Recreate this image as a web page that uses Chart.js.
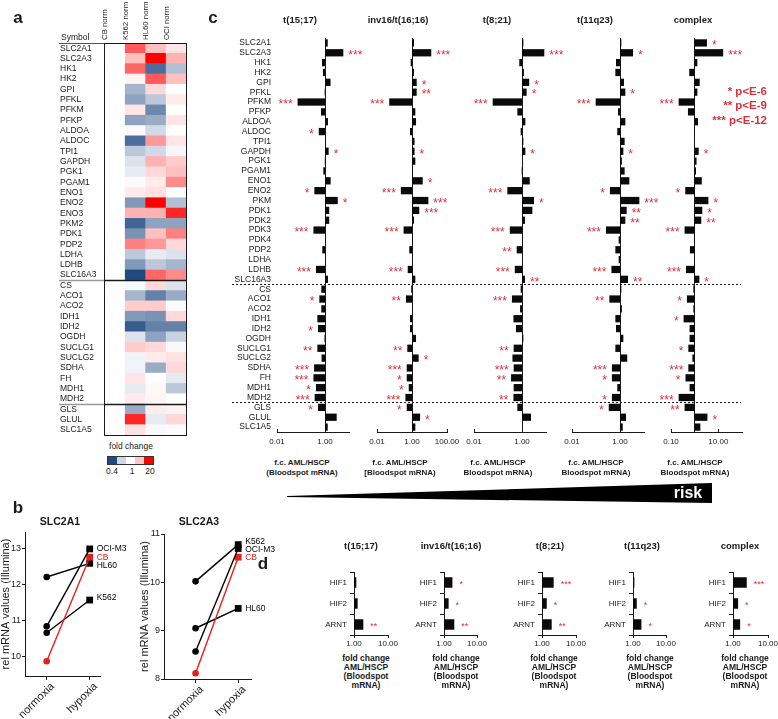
<!DOCTYPE html>
<html>
<head>
<meta charset="utf-8">
<title>Glycolysis / TCA gene expression in AML</title>
<script src="https://cdn.jsdelivr.net/npm/chart.js@4.4.1/dist/chart.umd.min.js"></script>
<style>
  body { margin: 0; background: #fff; }
  #fig { position: relative; width: 778px; height: 719px; overflow: hidden; font-family: "Liberation Sans", Arial, sans-serif; color: #1a1a1a; }
  #fig canvas { position: absolute; }
  .txt { position: absolute; white-space: nowrap; transform: translate(-50%, -50%); line-height: 1.15; text-align: center; }
  .panel { font-weight: bold; font-size: 17px; }
  .ttl { font-weight: bold; font-size: 9.5px; }
  .axt { font-weight: bold; font-size: 8px; line-height: 10px; }
  .axd { font-weight: bold; font-size: 8.5px; line-height: 9px; }
  .pleg { font-weight: bold; font-size: 11.5px; color: #d8323c; transform: translate(-100%, -50%); text-align: right; }
  .small { font-size: 8.5px; }
</style>
</head>
<body>
<div id="fig"></div>
<script>
const FONT = '"Liberation Sans", Arial, sans-serif';
const INK = '#1a1a1a';
const STAR = '#d8323c';
const fig = document.getElementById('fig');

// ---------- panel a : heatmap (fold change vs CB) ----------
const heatGenes = ['SLC2A1','SLC2A3','HK1','HK2','GPI','PFKL','PFKM','PFKP','ALDOA','ALDOC','TPI1','GAPDH','PGK1','PGAM1','ENO1','ENO2','ENO3','PKM2','PDK1','PDP2','LDHA','LDHB','SLC16A3',
  'CS','ACO1','ACO2','IDH1','IDH2','OGDH','SUCLG1','SUCLG2','SDHA','FH','MDH1','MDH2',
  'GLS','GLUL','SLC1A5'];
const heatCols = ['CB norm', 'K562 norm', 'HL60 norm', 'OCI norm'];
const fcCB = [1,1,1,1,1,1,1,1,1,1,1,1,1,1,1,1,1,1,1,1,1,1,1, 1,1,1,1,1,1,1,1,1,1,1,1, 1,1,1];
const fcK562 = [7.0,2.1,6.0,1.16,0.69,0.63,1.35,0.63,1.09,0.48,0.76,0.87,0.91,1.06,1.27,0.60,2.46,0.46,0.58,4.47,0.76,0.60,0.40,
  0.97,0.69,1.82,0.60,0.44,0.87,1.82,0.94,0.94,1.35,0.91,1.27,
  0.66,12.8,1.43];
const fcHL60 = [2.1,20,0.48,7.0,1.57,0.76,0.55,0.66,0.83,3.3,0.83,2.46,1.57,1.27,1.43,20,2.46,0.63,2.1,3.3,0.91,0.76,6.0,
  1.57,0.53,1.82,0.58,0.53,0.63,1.57,1.27,0.66,1.0,1.09,1.13,
  1.23,0.91,0.97];
const fcOCI = [1.35,2.46,0.73,2.1,1.0,1.27,1.0,1.35,1.0,1.35,0.955,1.82,2.1,3.85,1.0,0.73,12.8,0.63,4.47,1.57,0.87,0.69,3.85,
  0.87,0.66,0.98,1.57,0.53,0.80,0.97,1.43,1.57,0.90,0.76,1.0,
  1.16,1.57,0.98];
const heatGroupEnds = [22, 34];            // last row of glycolysis / TCA blocks
const legendStops = [0.4, 0.82, 1, 1.9, 20];
const legendTicks = ['0.4', '1', '20'];

// ---------- panel b : SLC2A1 / SLC2A3 normoxia vs hypoxia ----------
const conditions = ['normoxia', 'hypoxia'];
const cellLines = ['OCI-M3', 'CB', 'HL60', 'K562'];
const slc2a1Normoxia = [10.85, 9.88, 12.22, 10.67];
const slc2a1Hypoxia = [13.0, 12.77, 12.6, 11.58];
const slc2a3Normoxia = [8.57, 8.12, 9.05, 10.02];
const slc2a3Hypoxia = [10.7, 10.52, 9.46, 10.78];

// ---------- panel c : f.c. AML/HSCP per subtype ----------
const groups = ['t(15;17)', 'inv16/t(16;16)', 't(8;21)', 't(11q23)', 'complex'];
const genes = ['SLC2A1','SLC2A3','HK1','HK2','GPI','PFKL','PFKM','PFKP','ALDOA','ALDOC','TPI1','GAPDH','PGK1','PGAM1','ENO1','ENO2','PKM','PDK1','PDK2','PDK3','PDK4','PDP2','LDHA','LDHB','SLC16A3',
  'CS','ACO1','ACO2','IDH1','IDH2','OGDH','SUCLG1','SUCLG2','SDHA','FH','MDH1','MDH2',
  'GLS','GLUL','SLC1A5'];
const fcT1517 = [1.3,5.8,0.75,0.82,1.7,0.97,0.072,0.68,1.33,0.55,1.05,1.42,0.98,0.85,1.72,0.36,3.4,1.5,1.5,0.33,1.02,0.77,1.02,0.42,1.33,
  0.7,0.58,0.7,0.48,0.51,0.95,0.48,0.72,0.35,0.33,0.42,0.37,
  0.51,3.07,1.3];
const fcInv16 = [1.3,12.6,0.84,1.3,1.85,1.85,0.05,1.55,1.7,0.77,1.4,1.4,1.55,1.05,4.1,0.23,8.6,2.6,1.3,0.33,1.1,0.7,1.0,0.57,1.55,
  0.9,0.45,1.08,0.77,0.77,1.7,0.54,2.4,0.5,0.5,0.65,0.42,
  0.5,2.9,1.55];
const fcT821 = [1.14,8.5,0.77,1.2,2.0,1.56,0.06,0.64,1.38,0.88,1.14,1.38,1.0,0.97,2.1,0.245,3.16,2.7,1.33,0.31,1.1,0.6,1.0,0.5,1.33,
  0.88,0.38,0.83,0.44,0.56,1.14,0.45,0.4,0.45,0.35,0.45,0.44,
  0.64,2.37,1.0];
const fcT11q23 = [1.14,3.5,0.68,0.64,1.47,1.67,0.097,0.83,1.67,0.77,1.56,1.38,1.2,1.56,2.45,0.38,6.4,1.9,1.67,0.26,0.88,0.64,0.88,0.44,2.15,
  1.14,0.36,1.2,0.64,0.68,1.38,0.64,2.0,0.46,0.46,0.77,0.46,
  0.34,1.78,1.3];
const fcComplex = [3.3,16,1.3,0.59,1.63,1.3,0.21,0.52,1.38,0.94,1.0,1.48,1.2,1.14,2.0,0.4,3.8,2.1,1.9,0.375,0.94,0.63,0.94,0.43,1.58,
  0.88,0.47,0.88,0.34,0.61,0.61,0.54,0.8,0.54,0.41,0.61,0.21,
  0.375,3.45,1.74];
const sigT1517 = ['','***','','','','','***','','','*','','*','','','','*','*','','','***','','','','***','',
  '','*','','','*','','**','','***','***','*','***',
  '*','',''];
const sigInv16 = ['','***','','','*','**','***','','','','','*','','','*','***','***','***','','***','','','','***','',
  '','**','','','','','**','*','***','*','*','***',
  '*','*',''];
const sigT821 = ['','***','','','*','*','***','','','','','*','','','','***','*','','','***','','**','','***','**',
  '','***','','','','','**','','***','**','','**',
  '','',''];
const sigT11q23 = ['','*','','','','*','***','','','','','*','','','','*','***','**','**','***','','','','***','**',
  '','**','','','','','','','***','*','','*',
  '*','',''];
const sigComplex = ['*','***','','','','','***','','','','','*','','','','*','*','*','**','***','','','','***','*',
  '','*','','*','','','*','','***','*','','***',
  '**','*',''];
const geneGroupEnds = [24, 36];
const xRanges = [[0.01, 10], [0.01, 100], [0.01, 10], [0.01, 10], [0.1, 100]];
const xTickVals = [[0.01, 1], [0.01, 1, 100], [0.01, 1], [0.01, 1], [0.1, 10]];
const axisSecondLine = ['(Bloodspot mRNA)', '[Bloodspot mRNA)', 'Bloodspot mRNA)', 'Bloodspot mRNA)', 'Bloodspot mRNA)'];
const pLegend = ['* p<E-6', '** p<E-9', '*** p<E-12'];

// ---------- panel d : HIF ----------
const hifGenes = ['HIF1', 'HIF2', 'ARNT'];
const hifT1517 = [1.17, 1.28, 1.88];
const hifInv16 = [1.8, 1.38, 2.05];
const hifT821 = [2.2, 1.38, 1.93];
const hifT11q23 = [1.1, 1.3, 1.8];
const hifComplex = [2.47, 1.4, 1.6];
const hifSigT1517 = ['', '', '**'];
const hifSigInv16 = ['*', '*', '**'];
const hifSigT821 = ['***', '*', '**'];
const hifSigT11q23 = ['', '*', '*'];
const hifSigComplex = ['***', '*', '*'];

Chart.defaults.font.family = FONT;
Chart.defaults.color = INK;
Chart.defaults.animation = false;
Chart.defaults.responsive = false;
Chart.defaults.events = [];
Chart.defaults.plugins.legend.display = false;
Chart.defaults.plugins.tooltip.enabled = false;

// plain text block; lines are joined with <br>, content itself is set as text
function text(lines, x, y, cls, style) {
  const d = document.createElement('div');
  d.className = 'txt ' + (cls || '');
  [].concat(lines).forEach((ln, i) => {
    if (i) d.appendChild(document.createElement('br'));
    d.appendChild(document.createTextNode(ln));
  });
  d.style.left = x + 'px';
  d.style.top = y + 'px';
  if (style) Object.assign(d.style, style);
  fig.appendChild(d);
  return d;
}

// canvas that puts the chart area exactly on `area`, with margins m around it
function makeCanvas(area, m) {
  const c = document.createElement('canvas');
  const w = area.x1 - area.x0 + m.l + m.r;
  const h = area.y1 - area.y0 + m.t + m.b;
  c.width = w;
  c.height = h;
  c.style.left = (area.x0 - m.l) + 'px';
  c.style.top = (area.y0 - m.t) + 'px';
  c.style.width = w + 'px';
  c.style.height = h + 'px';
  fig.appendChild(c);
  c._origin = { x: area.x0 - m.l, y: area.y0 - m.t };
  return c;
}

function fixSize(w, h) {
  return s => {
    if (w !== null) s.width = w;
    if (h !== null) s.height = h;
    s.paddingLeft = 0; s.paddingRight = 0; s.paddingTop = 0; s.paddingBottom = 0;
  };
}

function heatColor(v) {
  if (v >= 1) {
    const t = Math.min(1, Math.log(v) / Math.log(20));
    const g = Math.round(255 * (1 - t));
    return `rgb(255,${g},${g})`;
  }
  const t = Math.min(1, Math.log(v) / Math.log(0.4));
  return `rgb(${Math.round(255 - 224 * t)},${Math.round(255 - 182 * t)},${Math.round(255 - 125 * t)})`;
}

const starPlugin = {
  id: 'stars',
  afterDatasetsDraw(chart, args, o) {
    if (!o.marks) return;
    const ctx = chart.ctx;
    const bars = chart.getDatasetMeta(0).data;
    ctx.save();
    ctx.fillStyle = STAR;
    ctx.font = o.size + 'px ' + FONT;
    ctx.textBaseline = 'middle';
    bars.forEach((bar, i) => {
      const mark = o.marks[i];
      if (!mark) return;
      const up = o.values[i] >= 1;
      ctx.textAlign = up ? 'left' : 'right';
      const edge = up ? Math.max(bar.x, bar.base) + o.gap : Math.min(bar.x, bar.base) - o.gap;
      ctx.fillText(mark, edge, bar.y + o.dy);
    });
    ctx.restore();
  }
};

const dividerPlugin = {
  id: 'dividers',
  afterDraw(chart, args, o) {
    if (!o.after) return;
    const ctx = chart.ctx;
    const y = chart.scales.y;
    const ox = chart.canvas._origin.x;
    ctx.save();
    ctx.strokeStyle = INK;
    ctx.lineWidth = 1;
    ctx.setLineDash([2, 2]);
    ctx.lineDashOffset = o.from % 4;
    o.after.forEach(idx => {
      const py = Math.round((y.getPixelForValue(idx) + y.getPixelForValue(idx + 1)) / 2) + 0.5;
      ctx.beginPath();
      ctx.moveTo(o.from - ox, py);
      ctx.lineTo(o.to - ox, py);
      ctx.stroke();
    });
    ctx.restore();
  }
};

const heatFramePlugin = {
  id: 'heatFrame',
  afterDraw(chart, args, o) {
    const { ctx, chartArea: a, scales: { y } } = chart;
    ctx.save();
    ctx.lineWidth = 1;
    ctx.strokeStyle = INK;
    ctx.strokeRect(Math.round(a.left) + 0.5, Math.round(a.top) + 0.5, Math.round(a.width), Math.round(a.height));
    const rules = [a.top].concat(o.after.map(i => (y.getPixelForValue(i) + y.getPixelForValue(i + 1)) / 2));
    rules.forEach((py, k) => {
      py = Math.round(py) + 0.5;
      ctx.lineWidth = k === 0 ? 1 : 1.5;
      ctx.strokeStyle = k === 0 ? '#555' : '#9a9a9a';
      ctx.beginPath(); ctx.moveTo(2, py); ctx.lineTo(a.left, py); ctx.stroke();
      ctx.strokeStyle = INK;
      ctx.beginPath(); ctx.moveTo(a.left, py); ctx.lineTo(a.right, py); ctx.stroke();
    });
    ctx.restore();
  }
};

const endLabelPlugin = {
  id: 'endLabels',
  afterDatasetsDraw(chart, args, o) {
    const ctx = chart.ctx;
    ctx.save();
    ctx.font = '8.5px ' + FONT;
    ctx.textAlign = 'left';
    ctx.textBaseline = 'middle';
    chart.data.datasets.forEach((ds, i) => {
      const pt = chart.getDatasetMeta(i).data[1];
      ctx.fillStyle = ds.borderColor;
      ctx.fillText(ds.label, pt.x + 7, pt.y + (o.nudge[i] || 0));
    });
    ctx.restore();
  }
};

// ================= panel a =================
(function heatmap() {
  const area = { x0: 104, x1: 186, y0: 43, y1: 435 };
  const m = { l: 47, r: 4, t: 43, b: 2 };
  const canvas = makeCanvas(area, m);
  const cols = [fcCB, fcK562, fcHL60, fcOCI];
  new Chart(canvas, {
    type: 'bar',
    data: {
      labels: heatGenes,
      datasets: cols.map((fc, c) => ({
        label: heatCols[c],
        data: fc.map(() => 1),
        backgroundColor: fc.map(heatColor),
        borderWidth: 0,
        barPercentage: 1,
        categoryPercentage: 1,
        xAxisID: 'x',
        yAxisID: 'y'
      }))
    },
    options: {
      indexAxis: 'y',
      layout: { padding: { left: m.l - 44, right: m.r, top: 0, bottom: m.b } },
      scales: {
        x: { stacked: true, min: 0, max: 4, display: false },
        y: {
          stacked: true, offset: true,
          grid: { display: false }, border: { display: false },
          ticks: { crossAlign: 'far', font: { size: 8.5 }, autoSkip: false, padding: 0 },
          afterFit: fixSize(44, null)
        },
        xc: {
          type: 'category', labels: heatCols, position: 'top', offset: true,
          grid: { display: false, drawTicks: false }, border: { display: false },
          ticks: { minRotation: 90, maxRotation: 90, font: { size: 7.8 }, autoSkip: false, padding: 3 },
          afterFit: fixSize(null, 43)
        }
      },
      plugins: { heatFrame: { after: heatGroupEnds } }
    },
    plugins: [heatFramePlugin]
  });

  const sym = text('Symbol', 61, 38, 'small');
  sym.style.transform = 'translate(0,-50%)';
  text('fold change', 131, 447, 'small');
  legendStops.forEach((v, i) => {
    const d = document.createElement('div');
    Object.assign(d.style, { position: 'absolute', left: (108 + i * 9) + 'px', top: '457px', width: '9px', height: '7px', background: heatColor(v) });
    fig.appendChild(d);
  });
  const frame = document.createElement('div');
  Object.assign(frame.style, { position: 'absolute', left: '107px', top: '456px', width: '45px', height: '7px', border: '1px solid #333' });
  fig.appendChild(frame);
  [112, 132, 150].forEach((x, i) => text(legendTicks[i], x, 472, 'small'));
})();

// ================= panel b =================
function mrnaChart(cfg) {
  const m = { l: 26, r: 42, t: 6, b: 42 };
  const canvas = makeCanvas(cfg.area, m);
  const datasets = cellLines.map((name, i) => {
    const col = name === 'CB' ? '#e3211c' : '#000000';
    return {
      label: name,
      data: [{ x: 0, y: cfg.norm[i] }, { x: 1, y: cfg.hyp[i] }],
      borderColor: col, backgroundColor: col,
      borderWidth: 1.4,
      pointStyle: ['circle', 'rect'],
      pointRadius: [3.3, 4.8],
      pointBorderWidth: 0
    };
  });
  new Chart(canvas, {
    type: 'line',
    data: { datasets },
    options: {
      layout: { padding: { left: 0, right: m.r, top: m.t, bottom: 0 } },
      scales: {
        x: {
          type: 'linear', min: cfg.xmin, max: cfg.xmax,
          afterBuildTicks: s => { s.ticks = conditions.map((c, i) => ({ value: i })); },
          afterFit: fixSize(null, m.b),
          grid: { drawOnChartArea: false, tickLength: 4, color: INK }, border: { color: INK },
          ticks: { minRotation: 45, maxRotation: 45, font: { size: 11 }, padding: 0, labelOffset: 6, callback: v => conditions[v] }
        },
        y: {
          type: 'linear', min: cfg.ymin, max: cfg.ymax,
          afterBuildTicks: s => { s.ticks = cfg.ticks.map(v => ({ value: v })); },
          afterFit: fixSize(m.l, null),
          grid: { drawOnChartArea: false, tickLength: 3, color: INK }, border: { color: INK },
          ticks: { font: { size: 9 }, padding: 1 },
          title: { display: true, text: 'rel mRNA values (Illumina)', font: { size: 11 }, padding: 0 }
        }
      },
      plugins: { endLabels: { nudge: cfg.nudge } }
    },
    plugins: [endLabelPlugin]
  });
}
mrnaChart({ area: { x0: 25, x1: 100, y0: 532, y1: 676 }, norm: slc2a1Normoxia, hyp: slc2a1Hypoxia,
  xmin: -0.505, xmax: 1.24, ymin: 9.47, ymax: 13.47, ticks: [10, 11, 12, 13], nudge: [0, 0, 2, -2] });
mrnaChart({ area: { x0: 164, x1: 251, y0: 534, y1: 679 }, norm: slc2a3Normoxia, hyp: slc2a3Hypoxia,
  xmin: -0.74, xmax: 1.3, ymin: 8, ymax: 11, ticks: [8, 9, 10, 11], nudge: [1, 0, 0, -3] });
text('SLC2A1', 60, 521, 'ttl', { fontSize: '10.5px' });
text('SLC2A3', 199, 521, 'ttl', { fontSize: '10.5px' });

// ================= panel c =================
const cValues = [fcT1517, fcInv16, fcT821, fcT11q23, fcComplex];
const cSig = [sigT1517, sigInv16, sigT821, sigT11q23, sigComplex];
const cAreaX = [[277, 349], [377, 447], [474, 546], [572, 644], [671, 742]];
const cSlices = [[232, 363], [363, 460], [460, 560], [560, 657], [657, 741]];
const cTitleX = [300, 398, 497, 595, 693];
const cAxisX = [302, 400, 498, 596, 695];

cValues.forEach((values, k) => {
  const area = { x0: cAreaX[k][0], x1: cAreaX[k][1], y0: 38, y1: 432 };
  const withLabels = k === 0;
  const m = { l: withLabels ? 45 : 16, r: 26, t: 4, b: 18 };
  const canvas = makeCanvas(area, m);
  const scales = {
    x: {
      type: 'logarithmic', min: xRanges[k][0], max: xRanges[k][1],
      afterBuildTicks: s => { s.ticks = xTickVals[k].map(v => ({ value: v })); },
      afterFit: fixSize(null, m.b),
      grid: { drawOnChartArea: false, tickLength: -3, color: INK }, border: { color: INK },
      ticks: { font: { size: 8 }, padding: 8, maxRotation: 0, autoSkip: false, callback: v => Number(v).toFixed(2) }
    },
    y: {
      type: 'category', position: { x: 1 }, offset: true,
      grid: { drawOnChartArea: false, drawTicks: false }, border: { color: INK },
      ticks: { display: false },
      afterFit: fixSize(0, null)
    }
  };
  if (withLabels) {
    scales.yl = {
      type: 'category', position: 'left', offset: true,
      grid: { display: false, drawTicks: false }, border: { display: false },
      ticks: { font: { size: 8.5 }, padding: 6, autoSkip: false },
      afterFit: fixSize(m.l, null)
    };
  }
  new Chart(canvas, {
    type: 'bar',
    data: {
      labels: genes,
      datasets: [{
        label: groups[k],
        data: values.map(v => [1, v]),
        backgroundColor: '#0a0a0a',
        borderWidth: 0,
        barPercentage: 0.74,
        categoryPercentage: 1
      }]
    },
    options: {
      indexAxis: 'y',
      layout: { padding: { left: withLabels ? 0 : m.l, right: m.r, top: m.t, bottom: 0 } },
      scales,
      plugins: {
        stars: { marks: cSig[k], values, size: 12, gap: 5, dy: 3 },
        dividers: { after: geneGroupEnds, from: cSlices[k][0], to: cSlices[k][1] }
      }
    },
    plugins: [starPlugin, dividerPlugin]
  });
  text(groups[k], cTitleX[k], 20, 'ttl');
  text(['f.c. AML/HSCP', axisSecondLine[k]], cAxisX[k], 468, 'axt');
});
pLegend.forEach((s, i) => text(s, 767, [92, 106, 121][i], 'pleg'));

// risk wedge
(function risk() {
  const w = document.createElement('div');
  Object.assign(w.style, { position: 'absolute', left: '287px', top: '483px', width: '425px', height: '20px', background: '#000',
    clipPath: 'polygon(0 13px, 100% 0, 100% 100%, 0 14px)' });
  fig.appendChild(w);
  text('risk', 688, 493, '', { color: '#fff', fontWeight: 'bold', fontSize: '16px' });
})();

// ================= panel d =================
const dValues = [hifT1517, hifInv16, hifT821, hifT11q23, hifComplex];
const dSig = [hifSigT1517, hifSigInv16, hifSigT821, hifSigT11q23, hifSigComplex];
const dAreaX = [[354, 388], [444, 477], [542, 576], [633, 666], [733, 768]];
const dTitleX = [361, 451, 550, 642, 740];
const dAxisX = [366, 456, 554, 650, 745];

dValues.forEach((values, k) => {
  const area = { x0: dAreaX[k][0], x1: dAreaX[k][1], y0: 572, y1: 635 };
  const m = { l: 40, r: 22, t: 3, b: 16 };
  const canvas = makeCanvas(area, m);
  new Chart(canvas, {
    type: 'bar',
    data: {
      labels: hifGenes,
      datasets: [{
        label: groups[k],
        data: values.map(v => [1, v]),
        backgroundColor: '#0a0a0a',
        borderWidth: 0,
        barPercentage: 0.5,
        categoryPercentage: 1
      }]
    },
    options: {
      indexAxis: 'y',
      layout: { padding: { left: 0, right: m.r, top: m.t, bottom: 0 } },
      scales: {
        x: {
          type: 'logarithmic', min: 1, max: 10,
          afterBuildTicks: s => { s.ticks = [1, 10].map(v => ({ value: v })); },
          afterFit: fixSize(null, m.b),
          grid: { drawOnChartArea: false, tickLength: 3, color: INK }, border: { color: INK },
          ticks: { font: { size: 8 }, padding: 1, maxRotation: 0, autoSkip: false, callback: v => Number(v).toFixed(2) }
        },
        y: {
          type: 'category', offset: true,
          grid: { offset: true, drawOnChartArea: false, tickLength: 4, color: INK }, border: { color: INK },
          ticks: { font: { size: 8 }, padding: 3 },
          afterFit: fixSize(m.l, null)
        }
      },
      plugins: { stars: { marks: dSig[k], values, size: 9, gap: 7, dy: 2.5 } }
    },
    plugins: [starPlugin]
  });
  text(groups[k], dTitleX[k], 546, 'ttl');
  text(['fold change', 'AML/HSCP', '(Bloodspot', 'mRNA)'], dAxisX[k], 671.5, 'axd');
});

// panel letters
text('a', 18, 18, 'panel');
text('b', 18, 508, 'panel');
text('c', 213, 18, 'panel');
text('d', 263, 564, 'panel');
</script>
</body>
</html>
